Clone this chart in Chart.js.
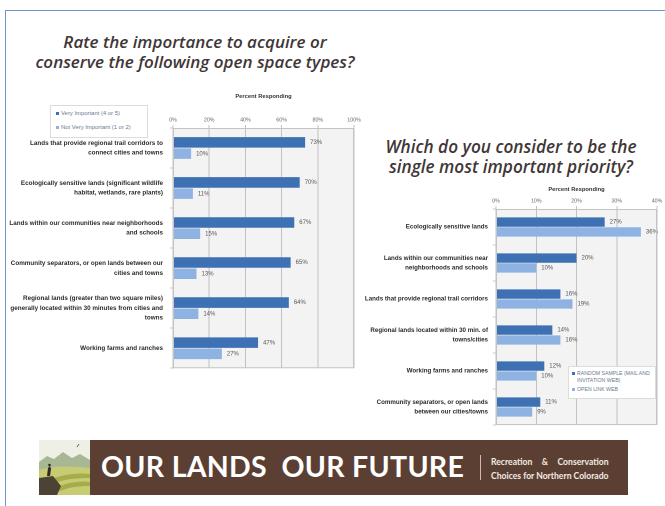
<!DOCTYPE html>
<html>
<head>
<meta charset="utf-8">
<script src="https://cdn.jsdelivr.net/npm/chart.js@4/dist/chart.umd.min.js"></script>
<style>
  body { margin: 0; width: 665px; height: 506px; background: #fff; position: relative; overflow: hidden; font-family: "Liberation Sans", Arial, sans-serif; }
  .frame { position: absolute; left: 5px; top: 10px; right: 0; bottom: 0; border-top: 1.5px solid #6c97cf; border-left: 1.5px solid #6c97cf; }
  .title { position: absolute; font-family: "Open Sans", sans-serif; font-style: italic; font-weight: 600; color: #3f3737; text-align: center; line-height: 1.15; white-space: nowrap; }
  canvas { position: absolute; }
  .legend { position: absolute; border: 1px solid #dcdcdc; background: #fff; color: #6a7a92; line-height: 1.3; white-space: nowrap; }
  .legend .sw { display: inline-block; width: 3px; height: 3px; margin-right: 2px; vertical-align: middle; }
  .banner { position: absolute; left: 90px; top: 440px; width: 538px; height: 55px; background: #5b3f33; }
  .banner .big { position: absolute; left: 11px; top: 9px; color: #fff; font-family: "Lato", sans-serif; font-weight: 700; font-size: 28.5px; letter-spacing: 0.3px; white-space: pre; }
  .banner .sep { position: absolute; left: 390px; top: 15px; width: 1px; height: 25px; background: #c9b9ae; }
  .banner .small { position: absolute; left: 401px; top: 15px; display: inline-block; color: #f2ebe4; font-family: "Lato", sans-serif; font-weight: 700; font-size: 8.6px; line-height: 14px; white-space: nowrap; }
  .banner .small .j { text-align: justify; text-align-last: justify; white-space: normal; }
</style>
</head>
<body>
<div class="frame"></div>

<div class="title" style="left:20px; top:32px; width:350px; font-size:17px;">Rate the importance to acquire or<br>conserve the following open space types?</div>
<div class="title" style="left:361px; top:137px; width:300px; font-size:17.2px;">Which do you consider to be the<br>single most important priority?</div>

<canvas id="leftChart" width="360" height="292" style="left:5px; top:93px;"></canvas>
<canvas id="rightChart" width="315" height="255" style="left:350px; top:180px;"></canvas>

<div class="legend" style="left:50px; top:105px; width:96px; height:31px; font-size:5.9px;">
  <div style="position:absolute; left:5px; top:4px;"><span class="sw" style="background:#3e70b4"></span>Very Important (4 or 5)</div>
  <div style="position:absolute; left:5px; top:18px;"><span class="sw" style="background:#8eb3e2"></span>Not Very Important (1 or 2)</div>
</div>
<div class="legend" style="left:568px; top:366px; width:86px; height:31px; font-size:5.2px;">
  <div style="position:absolute; left:3px; top:3px;"><span class="sw" style="background:#3e70b4"></span>RANDOM SAMPLE (MAIL AND<br><span style="padding-left:5px">INVITATION WEB)</span></div>
  <div style="position:absolute; left:3px; top:19px;"><span class="sw" style="background:#8eb3e2"></span>OPEN LINK WEB</div>
</div>

<svg style="position:absolute; left:39px; top:440px;" width="51" height="55" viewBox="0 0 51 55">
  <rect width="51" height="55" fill="#eef0e6"/>
  <path d="M0 22 L8 16 L15 19 L24 12 L33 18 L41 14 L51 20 L51 55 L0 55 Z" fill="#a9b894"/>
  <path d="M0 30 Q20 24 51 28 L51 55 L0 55 Z" fill="#c7cb74"/>
  <path d="M10 40 Q30 32 51 34 L51 38 Q30 37 12 44 Z" fill="#a4ad4a"/>
  <path d="M16 48 Q34 40 51 42 L51 46 Q34 45 18 52 Z" fill="#a4ad4a"/>
  <path d="M0 38 L14 36 L22 46 L18 55 L0 55 Z" fill="#4d4236"/>
  <path d="M8 36 L9 28 L11 26 L12 29 L11 36 Z" fill="#2f2a25"/>
  <circle cx="10.5" cy="25" r="1.3" fill="#2f2a25"/>
  <path d="M38 7 l2 -3" stroke="#3a3a3a" stroke-width="0.8"/>
</svg>
<div class="banner">
  <div class="big">OUR LANDS  OUR FUTURE</div>
  <div class="sep"></div>
  <div class="small"><div class="j">Recreation &amp; Conservation</div><div>Choices for Northern Colorado</div></div>
</div>

<script>
// left chart: importance ratings
const leftCategories = [
  ['Lands that provide regional trail corridors to', 'connect cities and towns'],
  ['Ecologically sensitive lands (significant wildlife', 'habitat, wetlands, rare plants)'],
  ['Lands within our communities near neighborhoods', 'and schools'],
  ['Community separators, or open lands between our', 'cities and towns'],
  ['Regional lands (greater than two square miles)', 'generally located within 30 minutes from cities and', 'towns'],
  ['Working farms and ranches']
];
const veryImportant = [73, 70, 67, 65, 64, 47];
const notVeryImportant = [10, 11, 15, 13, 14, 27];
const leftTicks = [0, 20, 40, 60, 80, 100];

// right chart: single most important priority
const rightCategories = [
  ['Ecologically sensitive lands'],
  ['Lands within our communities near', 'neighborhoods and schools'],
  ['Lands that provide regional trail corridors'],
  ['Regional lands located within 30 min. of', 'towns/cities'],
  ['Working farms and ranches'],
  ['Community separators, or open lands', 'between our cities/towns']
];
const randomSample = [27, 20, 16, 14, 12, 11];
const openLink = [36, 10, 19, 16, 10, 9];
const rightTicks = [0, 10, 20, 30, 40];

const darkBlue = '#3e70b4';
const lightBlue = '#8eb3e2';

const plotBg = {
    id: 'plotBg',
    beforeDraw(chart) {
        const a = chart.chartArea;
        chart.ctx.save();
        chart.ctx.fillStyle = '#f3f3f3';
        chart.ctx.fillRect(a.left, a.top, a.width, a.height);
        chart.ctx.restore();
    },
    afterDraw(chart) {
        const a = chart.chartArea;
        const ctx = chart.ctx;
        ctx.save();
        ctx.strokeStyle = '#c4c4c4';
        ctx.lineWidth = 1;
        ctx.strokeRect(a.left + 0.5, a.top + 0.5, a.width - 1, a.height - 1);
        ctx.restore();
    }
};

const valueLabels = {
    id: 'valueLabels',
    afterDatasetsDraw(chart) {
        const ctx = chart.ctx;
        ctx.save();
        ctx.font = '6px "Liberation Sans", Arial, sans-serif';
        ctx.fillStyle = '#555';
        ctx.textBaseline = 'middle';
        chart.data.datasets.forEach((ds, i) => {
            chart.getDatasetMeta(i).data.forEach((bar, j) => {
                ctx.fillText(ds.data[j] + '%', bar.x + 5, bar.y);
            });
        });
        ctx.restore();
    }
};

function makeChart(id, cfg) {
    return new Chart(document.getElementById(id), {
        type: 'bar',
        data: {
            labels: cfg.labels,
            datasets: cfg.series.map((s, i) => ({
                label: s.name,
                data: s.data,
                backgroundColor: i === 0 ? darkBlue : lightBlue,
                borderWidth: 0,
                barPercentage: 0.94,
                categoryPercentage: cfg.catPct
            }))
        },
        options: {
            indexAxis: 'y',
            responsive: false,
            animation: false,
            devicePixelRatio: 2,
            layout: { padding: cfg.padding },
            plugins: { legend: { display: false }, tooltip: { enabled: false } },
            scales: {
                x: {
                    position: 'top',
                    min: 0,
                    max: cfg.max,
                    afterBuildTicks: (s) => { s.ticks = cfg.ticks.map(v => ({ value: v })); },
                    afterFit: (s) => { s.height = cfg.xHeight; },
                    title: { display: true, text: 'Percent Responding', color: '#333', font: { size: 5.8, weight: 'bold' }, padding: 0 },
                    ticks: { color: '#666', font: { size: 5.3 }, padding: 2, callback: v => v + '%' },
                    grid: { color: '#c2c2c2', tickLength: 3 },
                    border: { display: false }
                },
                y: {
                    afterFit: (s) => { s.width = cfg.yWidth; },
                    ticks: { color: '#2b2b2b', font: { size: cfg.labelSize, weight: 'bold', lineHeight: cfg.labelLine }, padding: cfg.labelPad },
                    grid: { drawOnChartArea: false, color: '#c8c8c8', tickLength: 3 },
                    border: { display: false }
                }
            }
        },
        plugins: [plotBg, valueLabels]
    });
}

makeChart('leftChart', {
    labels: leftCategories,
    series: [{ name: 'Very Important (4 or 5)', data: veryImportant },
             { name: 'Not Very Important (1 or 2)', data: notVeryImportant }],
    max: 100, ticks: leftTicks,
    padding: { left: 0, right: 11, top: 0, bottom: 8 },
    xHeight: 35, yWidth: 168, labelPad: 7, catPct: 0.56,
    labelSize: 6.3, labelLine: 1.55
});

makeChart('rightChart', {
    labels: rightCategories,
    series: [{ name: 'RANDOM SAMPLE (MAIL AND INVITATION WEB)', data: randomSample },
             { name: 'OPEN LINK WEB', data: openLink }],
    max: 40, ticks: rightTicks,
    padding: { left: 0, right: 8, top: 6, bottom: 6 },
    xHeight: 23, yWidth: 146, labelPad: 5, catPct: 0.55,
    labelSize: 6.2, labelLine: 1.6
});
</script>
</body>
</html>
